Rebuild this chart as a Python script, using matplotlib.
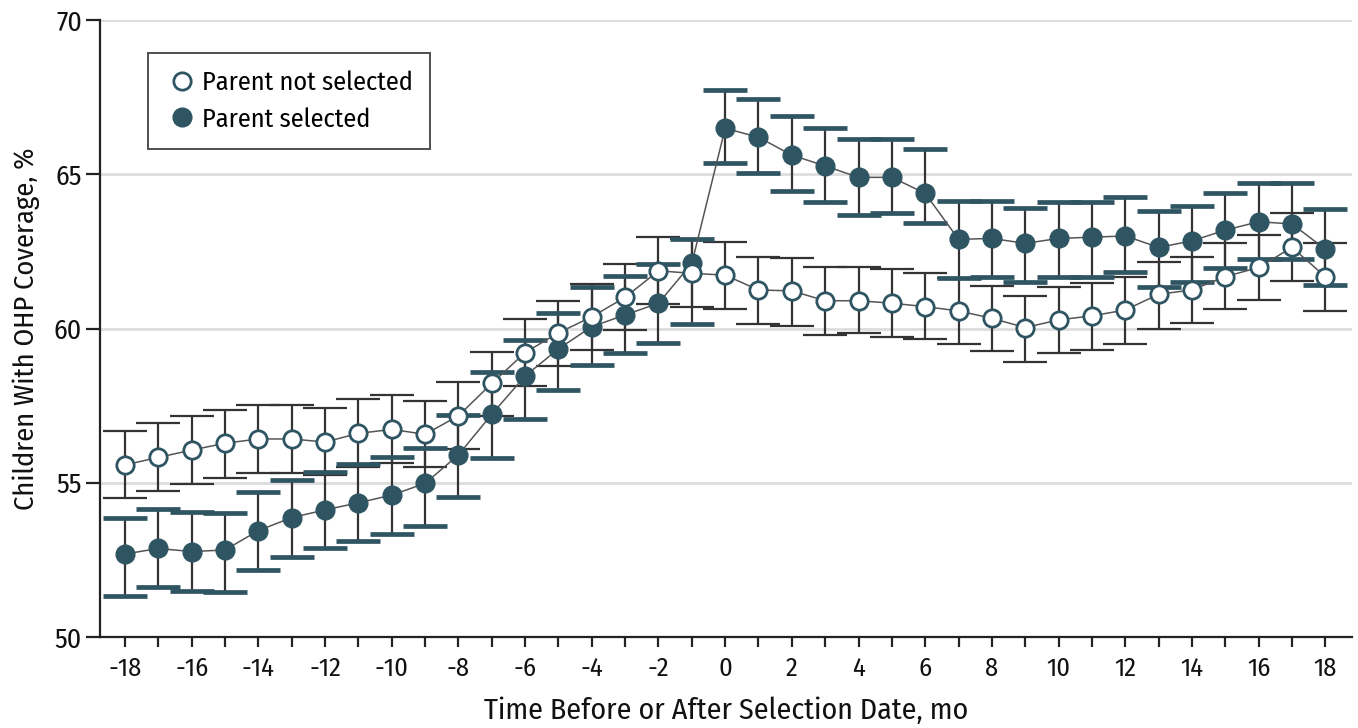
import matplotlib
matplotlib.use("Agg")
import matplotlib.pyplot as plt
import numpy as np

plt.rcParams['font.family'] = ['Fira Sans Condensed', 'DejaVu Sans']

months = list(range(-18, 19))

not_sel = [55.58, 55.82, 56.06, 56.28, 56.42, 56.42, 56.32, 56.60, 56.73, 56.57,
           57.17, 58.22, 59.22, 59.86, 60.38, 61.01, 61.87, 61.79, 61.73, 61.25,
           61.22, 60.90, 60.90, 60.82, 60.71, 60.57, 60.33, 60.03, 60.28, 60.41,
           60.60, 61.11, 61.25, 61.68, 61.98, 62.63, 61.68]
not_sel_lo = [54.50, 54.73, 54.97, 55.17, 55.33, 55.33, 55.24, 55.50, 55.65, 55.50,
              56.10, 57.15, 58.15, 58.80, 59.30, 59.95, 60.80, 60.71, 60.62, 60.14,
              60.08, 59.79, 59.84, 59.73, 59.65, 59.50, 59.27, 58.92, 59.22, 59.30,
              59.50, 59.98, 60.19, 60.62, 60.92, 61.55, 60.57]
not_sel_hi = [56.68, 56.93, 57.16, 57.37, 57.51, 57.51, 57.41, 57.70, 57.83, 57.65,
              58.25, 59.25, 60.32, 60.90, 61.44, 62.08, 62.98, 62.89, 62.79, 62.33,
              62.28, 61.98, 61.98, 61.93, 61.79, 61.65, 61.39, 61.05, 61.36, 61.49,
              61.68, 62.17, 62.33, 62.76, 63.03, 63.73, 62.76]

sel = [52.69, 52.87, 52.77, 52.82, 53.45, 53.87, 54.12, 54.35, 54.60, 54.98,
       55.90, 57.22, 58.46, 59.34, 60.06, 60.44, 60.82, 62.11, 66.49, 66.20,
       65.62, 65.27, 64.90, 64.90, 64.38, 62.89, 62.92, 62.76, 62.92, 62.96,
       63.00, 62.63, 62.84, 63.19, 63.46, 63.39, 62.57]
sel_lo = [51.33, 51.62, 51.50, 51.45, 52.18, 52.59, 52.89, 53.10, 53.33, 53.61,
          54.55, 55.80, 57.08, 58.00, 58.82, 59.20, 59.52, 60.14, 65.35, 65.05,
          64.47, 64.09, 63.68, 63.73, 63.41, 61.65, 61.68, 61.50, 61.68, 61.68,
          61.84, 61.36, 61.52, 61.95, 62.24, 62.24, 61.41]
sel_hi = [53.87, 54.15, 54.04, 54.01, 54.69, 55.09, 55.36, 55.60, 55.84, 56.13,
          57.20, 58.60, 59.63, 60.49, 61.33, 61.71, 62.10, 62.89, 67.73, 67.43,
          66.89, 66.51, 66.13, 66.13, 65.82, 64.13, 64.13, 63.92, 64.11, 64.11,
          64.27, 63.82, 63.98, 64.40, 64.71, 64.71, 63.87]

teal = '#2f5563'
stem = '#333333'
line_c = '#555555'

fig = plt.figure(figsize=(13.58, 7.28), dpi=100)
ax = fig.add_axes([0.0736, 0.125, 0.9220, 0.8475])

x = np.array(months)
ns = np.array(not_sel); s = np.array(sel)
ns_err = [ns - np.array(not_sel_lo), np.array(not_sel_hi) - ns]
s_err = [s - np.array(sel_lo), np.array(sel_hi) - s]

e1 = ax.errorbar(x, ns, yerr=ns_err, fmt='none', ecolor=stem, elinewidth=1.6,
                 capsize=16, capthick=1.6, zorder=2)
e2 = ax.errorbar(x, s, yerr=s_err, fmt='none', ecolor=stem, elinewidth=1.6,
                 capsize=16, capthick=3.4, zorder=2)
for cl in e2[1]:
    cl.set_color(teal)
    cl.set_markeredgecolor(teal)

ax.plot(x, ns, color=line_c, lw=1.1, zorder=3)
ax.plot(x, s, color=line_c, lw=1.1, zorder=3)

ax.plot(x, s, 'o', ms=13.5, mfc=teal, mec=teal, mew=1.0, zorder=4,
        label='Parent selected', linestyle='none')
ax.plot(x, ns, 'o', ms=12.5, mfc='white', mec=teal, mew=2.0, zorder=5,
        label='Parent not selected', linestyle='none')

ax.set_xlim(-18.75, 18.8)
ax.set_ylim(50, 70)
ax.set_yticks([50, 55, 60, 65, 70])
ax.set_xticks(months)
ax.set_xticklabels([str(m) if m % 2 == 0 else '' for m in months])
for yv in [55, 60, 65, 70]:
    ax.axhline(yv, color='#dddddd', lw=2.0, zorder=0)

for sp in ['top', 'right']:
    ax.spines[sp].set_visible(False)
for sp in ['left', 'bottom']:
    ax.spines[sp].set_linewidth(1.6)
    ax.spines[sp].set_color('#222222')
ax.tick_params(axis='both', width=1.6, color='#222222', labelcolor='#111111')
ax.tick_params(axis='x', length=7, pad=7, labelsize=19)
ax.tick_params(axis='y', length=10, pad=3, labelsize=20)

ax.set_xlabel('Time Before or After Selection Date, mo', fontsize=21.5, labelpad=11,
              color='#111111')
ax.set_ylabel('Children With OHP Coverage, %', fontsize=20.5, labelpad=10,
              color='#111111')

h, l = ax.get_legend_handles_labels()
leg = ax.legend(h[::-1], l[::-1], loc='upper left', bbox_to_anchor=(0.0276, 0.968),
                frameon=True, fancybox=False, edgecolor='#222222', fontsize=19,
                handletextpad=0.1, handlelength=1.3, borderpad=0.65,
                labelspacing=0.45, markerscale=1.0)
leg.get_frame().set_linewidth(1.4)

fig.savefig('out.png', dpi=100)
